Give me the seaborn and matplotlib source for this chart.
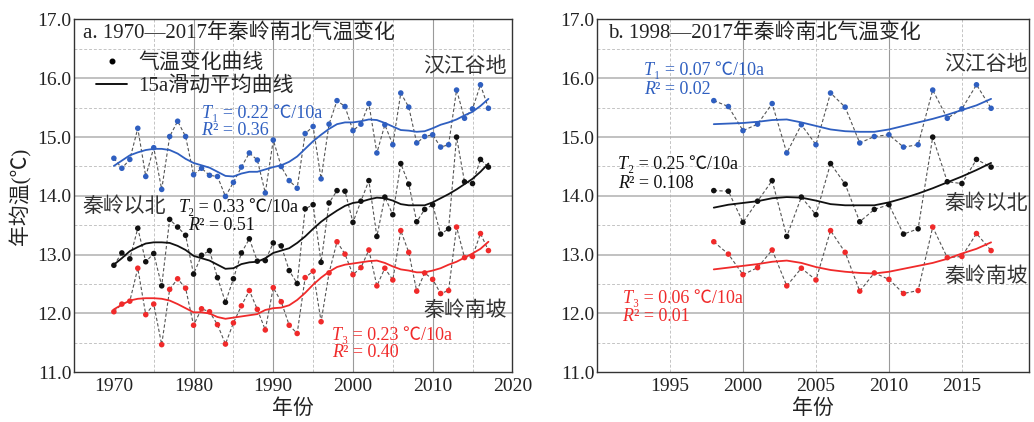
import numpy as np
import pandas as pd
import matplotlib
matplotlib.use('Agg')
import matplotlib.pyplot as plt
import seaborn as sns
from matplotlib.lines import Line2D

# ---------------- data ----------------
years_a = list(range(1970, 2018))
years_b = list(range(1998, 2018))

hanjiang = [14.64, 14.47, 14.62, 15.15, 14.33, 14.82, 14.11, 15.01, 15.27, 15.01,
            14.36, 14.47, 14.35, 14.33, 13.99, 14.23, 14.49, 14.73, 14.61, 14.05,
            14.95, 14.50, 14.26, 14.13, 15.06, 15.18, 14.29, 15.22, 15.62, 15.52,
            15.11, 15.22, 15.57, 14.73, 15.21, 14.87, 15.75, 15.51, 14.90, 15.01,
            15.04, 14.83, 14.87, 15.80, 15.32, 15.48, 15.89, 15.49]
north = [12.82, 13.03, 12.93, 13.45, 12.88, 13.02, 12.47, 13.60, 13.47, 13.33,
         12.67, 12.99, 13.07, 12.61, 12.19, 12.59, 13.03, 13.27, 12.89, 12.90,
         13.20, 13.15, 12.73, 12.51, 13.78, 13.85, 12.87, 13.88, 14.09, 14.08,
         13.55, 13.91, 14.26, 13.31, 13.98, 13.68, 14.55, 14.20, 13.56, 13.77,
         13.85, 13.35, 13.44, 15.00, 14.24, 14.21, 14.62, 14.49]
south = [12.03, 12.16, 12.21, 12.77, 11.98, 12.16, 11.47, 12.41, 12.59, 12.43,
         11.80, 12.08, 12.03, 11.81, 11.48, 11.84, 12.13, 12.39, 12.07, 11.72,
         12.44, 12.20, 11.80, 11.66, 12.61, 12.72, 11.86, 12.69, 13.22, 13.01,
         12.66, 12.78, 13.08, 12.47, 12.77, 12.57, 13.41, 13.04, 12.38, 12.69,
         12.58, 12.34, 12.39, 13.47, 12.95, 12.97, 13.36, 13.07]

# 15a smoothed curves (panel a)
hanjiang_smooth_a = [14.51, 14.60, 14.69, 14.74, 14.78, 14.80, 14.80, 14.78, 14.72, 14.63,
                     14.56, 14.52, 14.48, 14.41, 14.34, 14.33, 14.38, 14.41, 14.41, 14.45,
                     14.49, 14.52, 14.58, 14.67, 14.80, 14.93, 15.04, 15.14, 15.22, 15.25,
                     15.25, 15.27, 15.30, 15.29, 15.24, 15.18, 15.12, 15.11, 15.09, 15.10,
                     15.15, 15.21, 15.25, 15.30, 15.37, 15.43, 15.53, 15.65]
north_smooth_a = [12.83, 12.94, 13.06, 13.13, 13.19, 13.21, 13.21, 13.20, 13.15, 13.08,
                  12.98, 12.94, 12.90, 12.83, 12.76, 12.77, 12.84, 12.87, 12.88, 12.94,
                  13.03, 13.07, 13.11, 13.20, 13.31, 13.44, 13.56, 13.66, 13.75, 13.83,
                  13.88, 13.90, 13.94, 13.97, 13.96, 13.92, 13.86, 13.84, 13.84, 13.84,
                  13.89, 13.96, 14.03, 14.11, 14.20, 14.29, 14.41, 14.55]
south_smooth_a = [12.07, 12.15, 12.22, 12.25, 12.26, 12.26, 12.25, 12.22, 12.16, 12.09,
                  12.02, 12.02, 12.00, 11.94, 11.91, 11.93, 11.95, 11.97, 11.99, 12.06,
                  12.09, 12.10, 12.14, 12.23, 12.35, 12.49, 12.61, 12.71, 12.79, 12.83,
                  12.85, 12.87, 12.89, 12.90, 12.86, 12.80, 12.75, 12.73, 12.70, 12.70,
                  12.73, 12.77, 12.83, 12.88, 12.95, 13.02, 13.10, 13.22]

# smoothed curves (panel b)
hanjiang_smooth_b = [15.22, 15.23, 15.24, 15.26, 15.29, 15.30, 15.25, 15.19, 15.13, 15.10,
                     15.09, 15.09, 15.13, 15.19, 15.25, 15.31, 15.38, 15.46, 15.54, 15.65]
north_smooth_b = [13.80, 13.85, 13.88, 13.91, 13.96, 13.98, 13.97, 13.92, 13.86, 13.84,
                  13.84, 13.84, 13.89, 13.96, 14.04, 14.13, 14.23, 14.33, 14.44, 14.56]
south_smooth_b = [12.75, 12.78, 12.81, 12.84, 12.88, 12.90, 12.86, 12.79, 12.74, 12.71,
                  12.69, 12.68, 12.71, 12.76, 12.81, 12.86, 12.93, 13.02, 13.10, 13.21]

title_a = 'a. 1970—2017年秦岭南北气温变化'
title_b = 'b. 1998—2017年秦岭南北气温变化'
site_labels = ['汉江谷地', '秦岭以北', '秦岭南坡']
legend_labels = ['气温变化曲线', '15a滑动平均曲线']
stats_a = [('T', '₁', ' = 0.22 ℃/10a', '² = 0.36'),
           ('T', '₂', ' = 0.33 ℃/10a', '² = 0.51'),
           ('T', '₃', ' = 0.23 ℃/10a', '² = 0.40')]
stats_b = [('T', '₁', ' = 0.07 ℃/10a', '² = 0.02'),
           ('T', '₂', ' = 0.25 ℃/10a', '² = 0.108'),
           ('T', '₃', ' = 0.06 ℃/10a', '² = 0.01')]

BLUE = '#2f5fc0'
BLACK = '#111111'
RED = '#f02a2a'
colors = [BLUE, BLACK, RED]

df = pd.DataFrame({'year': years_a, 'hanjiang': hanjiang, 'north': north, 'south': south,
                   'hs': hanjiang_smooth_a, 'ns': north_smooth_a, 'ss': south_smooth_a})
dfb = df[df['year'] >= 1998].copy()
dfb['hs'] = hanjiang_smooth_b
dfb['ns'] = north_smooth_b
dfb['ss'] = south_smooth_b

# ---------------- style ----------------
sns.set_style('white')
FAM = ['Liberation Serif', 'Noto Sans CJK SC', 'DejaVu Serif']
plt.rcParams['font.family'] = FAM
plt.rcParams['axes.unicode_minus'] = False

fig = plt.figure(figsize=(10.34, 4.22), dpi=100)
axA = fig.add_axes([0.0716, 0.1178, 0.4239, 0.836])
axB = fig.add_axes([0.5774, 0.1178, 0.4178, 0.836])


def draw_grid(ax, solid_x, dashed_x):
    for v in dashed_x:
        ax.axvline(v, color='#c4c4c4', lw=0.7, ls=(0, (3, 2)), zorder=0)
    for v in solid_x:
        ax.axvline(v, color='#9a9a9a', lw=0.8, zorder=0)
    for h in [11.5, 12.5, 13.5, 14.5, 15.5, 16.5]:
        ax.axhline(h, color='#c4c4c4', lw=0.7, ls=(0, (3, 2)), zorder=0)
    for h in [12, 13, 14, 15, 16]:
        ax.axhline(h, color='#b0b0b0', lw=1.1, zorder=0)


def draw_panel(ax, data):
    for col, scol, c in zip(['hanjiang', 'north', 'south'], ['hs', 'ns', 'ss'], colors):
        sns.lineplot(data=data, x='year', y=col, ax=ax, color='#555555', lw=0.8,
                     linestyle=(0, (3, 2)), estimator=None, sort=False, zorder=2)
        sns.lineplot(data=data, x='year', y=scol, ax=ax, color=c, lw=1.3,
                     estimator=None, sort=False, zorder=3)
        sns.scatterplot(data=data, x='year', y=col, ax=ax, color=c, s=16,
                        edgecolor='none', linewidth=0, zorder=4)


def stat_text(ax, x, y, st, color, size=13):
    sym, sub, rest, r2 = st
    t1 = ax.text(x, y, sym, color=color, fontsize=size, fontstyle='italic',
                 family='Liberation Serif', ha='left', va='center', zorder=6)
    ax.annotate(sub + rest, xy=(1, 0), xycoords=t1, ha='left', va='bottom',
                color=color, fontsize=size, family=FAM, zorder=6)


def r2_text(ax, x, y, st, color, size=13):
    sym, sub, rest, r2 = st
    t1 = ax.text(x, y, 'R', color=color, fontsize=size, fontstyle='italic',
                 family='Liberation Serif', ha='left', va='center', zorder=6)
    ax.annotate(r2, xy=(1, 0), xycoords=t1, ha='left', va='bottom',
                color=color, fontsize=size, family=FAM, zorder=6)


# ---------------- panel a ----------------
draw_grid(axA, [1980, 1990, 2000, 2010], [1975, 1985, 1995, 2005, 2015])
draw_panel(axA, df)
axA.set_xlim(1965, 2020)
axA.set_xticks([1970, 1980, 1990, 2000, 2010, 2020])
axA.set_xticklabels(['1970', '1980', '1990', '2000', '2010', '2020'])

# ---------------- panel b ----------------
draw_grid(axB, [2000, 2010], [1995, 2005, 2015])
draw_panel(axB, dfb)
axB.set_xlim(1990, 2019.6)
axB.set_xticks([1995, 2000, 2005, 2010, 2015])
axB.set_xticklabels(['1995', '2000', '2005', '2010', '2015'])

for ax in (axA, axB):
    ax.set_ylim(11, 17)
    ax.set_yticks([11, 12, 13, 14, 15, 16, 17])
    ax.set_yticklabels([f'{v:.1f}' for v in [11, 12, 13, 14, 15, 16, 17]])
    ax.tick_params(axis='both', direction='in', length=3, width=0.8, labelsize=14,
                   color='#333333', labelcolor='#222222')
    ax.tick_params(axis='y', pad=2)
    ax.tick_params(axis='x', pad=4)
    for s in ax.spines.values():
        s.set_color('#333333')
        s.set_linewidth(1.0)
    ax.set_xlabel('年份', fontsize=15, labelpad=3, color='#222222')
    ax.set_ylabel('')

axA.set_ylabel('年均温(℃)', fontsize=15, labelpad=4, color='#222222')

# panel a texts
axA.text(1966.1, 16.77, title_a, fontsize=15, ha='left', va='center', color='#222222')
handles = [Line2D([], [], marker='o', ls='none', color='black', markersize=3.3),
           Line2D([], [], color='black', lw=1.3)]
axA.legend(handles, legend_labels, loc='upper left', bbox_to_anchor=(0.05, 0.905),
           frameon=False, prop={'family': FAM, 'size': 15}, handlelength=1.5,
           handletextpad=0.55, labelspacing=0.15, borderpad=0, borderaxespad=0)
axA.text(2019.3, 16.18, site_labels[0], fontsize=15, ha='right', va='center', color='#333333')
axA.text(1966.1, 13.81, site_labels[1], fontsize=15, ha='left', va='center', color='#333333')
axA.text(2019.3, 12.04, site_labels[2], fontsize=15, ha='right', va='center', color='#333333')

stat_text(axA, 1981.0, 15.40, stats_a[0], BLUE)
r2_text(axA, 1981.0, 15.11, stats_a[0], BLUE)
stat_text(axA, 1978.1, 13.81, stats_a[1], BLACK)
r2_text(axA, 1979.3, 13.50, stats_a[1], BLACK)
stat_text(axA, 1997.4, 11.63, stats_a[2], RED)
r2_text(axA, 1997.4, 11.34, stats_a[2], RED)

# panel b texts
axB.text(1990.75, 16.77, title_b, fontsize=15, ha='left', va='center', color='#222222')
axB.text(2019.5, 16.22, site_labels[0], fontsize=15, ha='right', va='center', color='#333333')
axB.text(2019.5, 13.86, site_labels[1], fontsize=15, ha='right', va='center', color='#333333')
axB.text(2019.5, 12.61, site_labels[2], fontsize=15, ha='right', va='center', color='#333333')

stat_text(axB, 1993.2, 16.14, stats_b[0], BLUE)
r2_text(axB, 1993.2, 15.81, stats_b[0], BLUE)
stat_text(axB, 1991.45, 14.54, stats_b[1], BLACK)
r2_text(axB, 1991.45, 14.21, stats_b[1], BLACK)
stat_text(axB, 1991.75, 12.26, stats_b[2], RED)
r2_text(axB, 1991.75, 11.95, stats_b[2], RED)

fig.savefig('out.png', dpi=100)
